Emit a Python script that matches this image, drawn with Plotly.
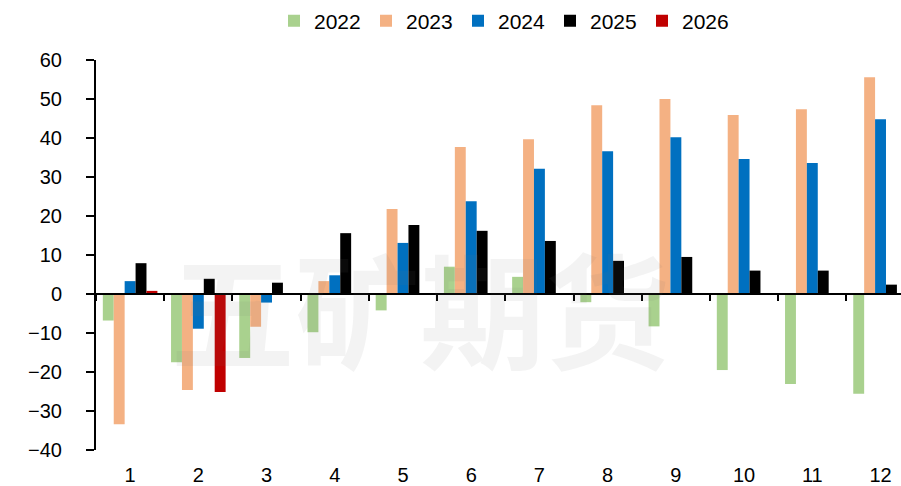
import plotly.graph_objects as go

months = [str(i) for i in range(1, 13)]
years = ["2022", "2023", "2024", "2025", "2026"]
colors = ["#A9D18E", "#F4B183", "#0070C0", "#000000", "#C00000"]

v2022 = [-6.8, -17.5, -16.4, -9.8, -4.2, 7.0, 4.4, -2.1, -8.3, -19.5, -23.1, -25.6]
v2023 = [-33.4, -24.6, -8.4, 3.3, 21.8, 37.7, 39.7, 48.4, 50.0, 45.9, 47.4, 55.6]
v2024 = [3.3, -8.9, -2.2, 4.8, 13.1, 23.8, 32.1, 36.6, 40.2, 34.6, 33.6, 44.8]
v2025 = [7.9, 3.9, 2.9, 15.6, 17.7, 16.2, 13.6, 8.5, 9.5, 6.0, 6.0, 2.4]
v2026 = [0.8, -25.1, None, None, None, None, None, None, None, None, None, None]

series = [v2022, v2023, v2024, v2025, v2026]

fig = go.Figure()
for name, vals, col in zip(years, series, colors):
    fig.add_trace(go.Bar(x=months, y=vals, name=name, marker_color=col,
                         marker_line_width=0))

fig.add_annotation(text="<b>五矿期货</b>", xref="paper", yref="paper",
                   x=(420 - 96) / 805, y=(486 - 36 - 305) / 390,
                   showarrow=False,
                   font=dict(family="Noto Sans CJK SC", size=125,
                             color="rgba(120,120,120,0.085)"))

fig.update_layout(
    width=901, height=486,
    margin=dict(l=96, r=0, t=60, b=36, autoexpand=False),
    plot_bgcolor="white", paper_bgcolor="white",
    barmode="group", bargap=0.2, bargroupgap=0,
    font=dict(family="Liberation Sans, Arial", size=20, color="#000000"),
    legend=dict(orientation="h", x=(274 - 96) / 805, xanchor="left",
                y=1 - 21 / 486, yref="container", yanchor="middle",
                font=dict(size=21), itemwidth=30, entrywidth=47,
                traceorder="normal"),
    showlegend=True,
)
fig.update_xaxes(type="category", categoryorder="array", categoryarray=months,
                 range=[-0.5, 11.3], tickson="boundaries", ticks="outside",
                 ticklen=6, tickwidth=2, tickcolor="black",
                 showline=True, linecolor="black", linewidth=2,
                 showgrid=False, anchor="free", position=0.4,
                 ticklabelstandoff=163, tickfont=dict(size=20),
                 automargin=False)
fig.update_yaxes(range=[-40, 60], dtick=10, ticks="outside", ticklen=8,
                 tickwidth=2, tickcolor="black", showline=True,
                 linecolor="black", linewidth=2, showgrid=False,
                 zeroline=False, tickfont=dict(size=20), automargin=False,
                 ticklabelstandoff=20)

fig.write_html("out.html", config={"displayModeBar": False},
               post_script="document.body.style.margin='0';")
